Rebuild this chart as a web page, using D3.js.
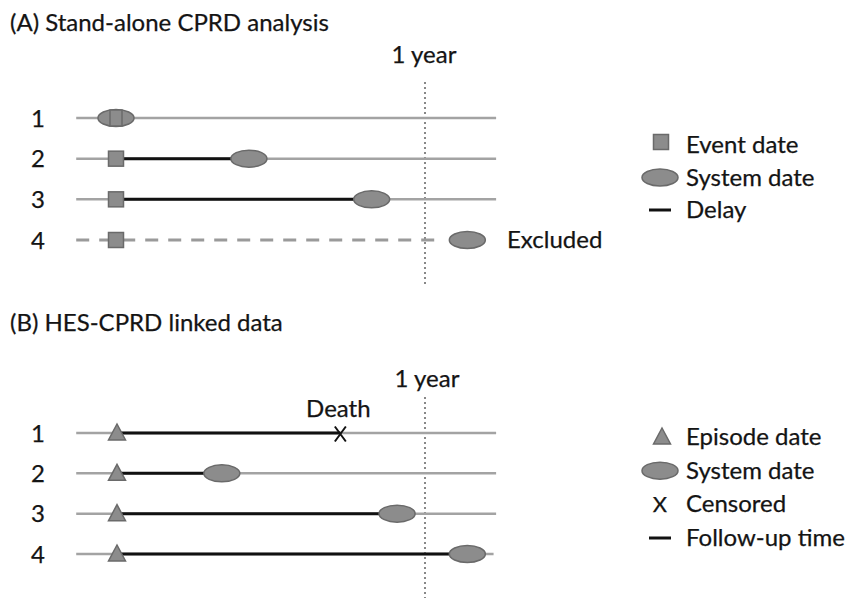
<!DOCTYPE html>
<html><head><meta charset="utf-8">
<script src="https://cdn.jsdelivr.net/npm/d3@7"></script>
<style>body{margin:0;background:#fff}svg{display:block}text{font-family:Lato,"Open Sans",sans-serif;fill:#141414;stroke:#141414;stroke-width:0.25px}</style>
</head><body><svg id="c" width="851" height="598"></svg>
<script>
// Data (days from index date)
const rowsLabels = ["1","2","3","4"];
const yearDays = 365;
// Panel A
const aEvent = [0, 0, 0, 0];
const aSystem = [0, 157, 302, 415];
const aExcluded = [false, false, false, true];
// Panel B
const bEpisode = [0, 0, 0, 0];
const bSystem = [null, 125, 332, 415];
const bDeath = [265, null, null, null];
const legendA = ["Event date", "System date", "Delay"];
const legendB = ["Episode date", "System date", "Censored", "Follow-up time"];

const FS = 24;
const svg = d3.select("#c");
const x = d3.scaleLinear().domain([0, yearDays]).range([116, 425]);
const lineStart = -47, lineEnd = 449;
const gray = "#a3a3a3", fill = "#8c8c8c", stroke = "#6a6a6a";
const yA = d3.scalePoint().domain(rowsLabels).range([118, 240]);
const yB = d3.scalePoint().domain(rowsLabels).range([433, 554]);

function ellipse(g, cx, cy){
  g.append("ellipse").attr("cx", cx).attr("cy", cy).attr("rx", 18).attr("ry", 8.5)
   .attr("fill", fill).attr("stroke", stroke).attr("stroke-width", 1.5);
}
function square(g, cx, cy){
  g.append("rect").attr("x", cx-7.5).attr("y", cy-7.5).attr("width", 15).attr("height", 15)
   .attr("fill", fill).attr("stroke", stroke).attr("stroke-width", 1.5);
}
function triangle(g, cx, cy){
  g.append("path").attr("d", `M${cx},${cy-9}L${cx+8.5},${cy+7}L${cx-8.5},${cy+7}Z`)
   .attr("fill", fill).attr("stroke", stroke).attr("stroke-width", 1.5);
}
function cross(g, cx, cy, sx, sy, col){
  g.append("path").attr("d", `M${cx-sx},${cy-sy}L${cx+sx},${cy+sy}M${cx+sx},${cy-sy}L${cx-sx},${cy+sy}`)
   .attr("stroke", col).attr("stroke-width", 2).attr("fill","none");
}

// Titles
svg.append("text").attr("x", 10).attr("y", 31).attr("font-size", FS).text("(A) Stand-alone CPRD analysis");
svg.append("text").attr("x", 10).attr("y", 331).attr("font-size", FS).text("(B) HES-CPRD linked data");

// Year lines
svg.append("line").attr("x1", x(yearDays)).attr("x2", x(yearDays)).attr("y1", 82).attr("y2", 285)
  .attr("stroke", "#888").attr("stroke-width", 2).attr("stroke-dasharray", "2,3");
svg.append("text").attr("x", x(yearDays)-1).attr("y", 63).attr("text-anchor","middle").attr("font-size", FS).text("1 year");
svg.append("line").attr("x1", x(yearDays)).attr("x2", x(yearDays)).attr("y1", 397).attr("y2", 598)
  .attr("stroke", "#888").attr("stroke-width", 2).attr("stroke-dasharray", "2,3");
svg.append("text").attr("x", x(yearDays)+2).attr("y", 387).attr("text-anchor","middle").attr("font-size", FS).text("1 year");

// Panel A rows
const gA = svg.append("g");
rowsLabels.forEach((r, i) => {
  const cy = yA(r);
  gA.append("text").attr("x", 38).attr("y", cy+8.5).attr("text-anchor","middle").attr("font-size", FS).text(r);
  if (aExcluded[i]) {
    gA.append("line").attr("x1", x(lineStart)).attr("x2", x(384)).attr("y1", cy).attr("y2", cy)
      .attr("stroke", "#9a9a9a").attr("stroke-width", 3).attr("stroke-dasharray", "13,10");
  } else {
    gA.append("line").attr("x1", x(lineStart)).attr("x2", x(lineEnd)).attr("y1", cy).attr("y2", cy)
      .attr("stroke", gray).attr("stroke-width", 2.5);
    if (aSystem[i] > aEvent[i]) {
      gA.append("line").attr("x1", x(aEvent[i])).attr("x2", x(aSystem[i])).attr("y1", cy).attr("y2", cy)
        .attr("stroke", "#111").attr("stroke-width", 3);
    }
  }
  ellipse(gA, x(aSystem[i]), cy);
  if (aSystem[i] === aEvent[i]) {
    gA.append("rect").attr("x", x(aEvent[i])-6).attr("y", cy-8).attr("width", 12).attr("height", 16)
      .attr("fill", fill).attr("stroke", stroke).attr("stroke-width", 1.5);
  } else square(gA, x(aEvent[i]), cy);
  if (aExcluded[i]) gA.append("text").attr("x", 507).attr("y", cy+8).attr("font-size", FS).text("Excluded");
});

// Panel B rows
const gB = svg.append("g");
rowsLabels.forEach((r, i) => {
  const cy = yB(r);
  gB.append("text").attr("x", 38).attr("y", cy+8.5).attr("text-anchor","middle").attr("font-size", FS).text(r);
  gB.append("line").attr("x1", x(lineStart)).attr("x2", x(lineEnd - (i===3?3:0))).attr("y1", cy).attr("y2", cy)
    .attr("stroke", gray).attr("stroke-width", 2.5);
  const end = bDeath[i] != null ? bDeath[i] : bSystem[i];
  gB.append("line").attr("x1", x(bEpisode[i])).attr("x2", x(end)).attr("y1", cy).attr("y2", cy)
    .attr("stroke", "#111").attr("stroke-width", 3);
  if (bSystem[i] != null) ellipse(gB, x(bSystem[i]), cy);
  if (bDeath[i] != null) {
    cross(gB, x(bDeath[i]), cy+1, 5.5, 7.5, "#111");
    gB.append("text").attr("x", x(bDeath[i])-2).attr("y", cy-16).attr("text-anchor","middle").attr("font-size", FS).text("Death");
  }
  triangle(gB, x(bEpisode[i])+1, cy);
});

// Legend A
const lgA = svg.append("g");
const lyA = d3.scalePoint().domain(legendA).range([145, 210]);
legendA.forEach((t, i) => {
  const cy = lyA(t);
  if (i===0) square(lgA, 661, cy-3);
  if (i===1) ellipse(lgA, 660, cy);
  if (i===2) lgA.append("line").attr("x1", 649).attr("x2", 671).attr("y1", cy).attr("y2", cy).attr("stroke","#111").attr("stroke-width", 3);
  lgA.append("text").attr("x", 686).attr("y", cy+8).attr("font-size", FS).text(t);
});
// Legend B
const lgB = svg.append("g");
const lyB = d3.scalePoint().domain(legendB).range([437, 538]);
legendB.forEach((t, i) => {
  const cy = lyB(t);
  if (i===0) triangle(lgB, 662, cy);
  if (i===1) ellipse(lgB, 660, cy);
  if (i===2) lgB.append("text").attr("x", 660).attr("y", cy+8).attr("text-anchor","middle").attr("font-size", 22).text("X");
  if (i===3) lgB.append("line").attr("x1", 649).attr("x2", 671).attr("y1", cy).attr("y2", cy).attr("stroke","#111").attr("stroke-width", 3);
  lgB.append("text").attr("x", 686).attr("y", cy+8).attr("font-size", FS).text(t);
});
</script></body></html>
